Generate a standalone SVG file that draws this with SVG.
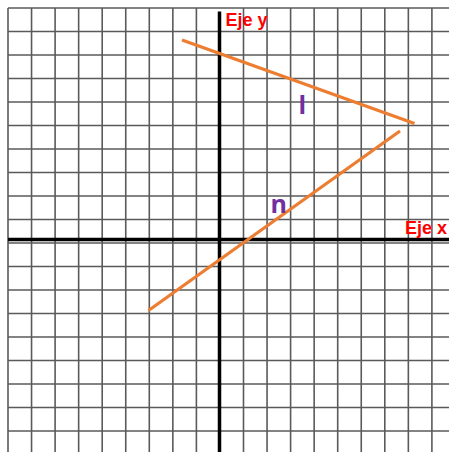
<svg xmlns="http://www.w3.org/2000/svg" width="449" height="452" viewBox="0 0 449 452">
<style>
.grid line{stroke:#5a5a5a;stroke-width:1.6}
.axis{stroke:#000;stroke-width:3.5}
.ln{stroke:#ED7D31;stroke-width:3.2;stroke-linecap:butt}
.ax-lbl{font-family:"Liberation Sans",Arial,sans-serif;font-weight:bold;font-size:18px;fill:#FF0000}
.ln-lbl{font-family:"Open Sans","Liberation Sans",sans-serif;font-weight:bold;font-size:25px;fill:#7030A0}
</style>
<rect width="449" height="452" fill="#fff"/>
<g id="grid" class="grid">
<line x1="8" y1="8" x2="8" y2="452"/>
<line x1="31.55" y1="8" x2="31.55" y2="452"/>
<line x1="55.1" y1="8" x2="55.1" y2="452"/>
<line x1="78.65" y1="8" x2="78.65" y2="452"/>
<line x1="102.2" y1="8" x2="102.2" y2="452"/>
<line x1="125.75" y1="8" x2="125.75" y2="452"/>
<line x1="149.3" y1="8" x2="149.3" y2="452"/>
<line x1="172.85" y1="8" x2="172.85" y2="452"/>
<line x1="196.4" y1="8" x2="196.4" y2="452"/>
<line x1="243.5" y1="8" x2="243.5" y2="452"/>
<line x1="267.05" y1="8" x2="267.05" y2="452"/>
<line x1="290.6" y1="8" x2="290.6" y2="452"/>
<line x1="314.15" y1="8" x2="314.15" y2="452"/>
<line x1="337.7" y1="8" x2="337.7" y2="452"/>
<line x1="361.25" y1="8" x2="361.25" y2="452"/>
<line x1="384.8" y1="8" x2="384.8" y2="452"/>
<line x1="408.35" y1="8" x2="408.35" y2="452"/>
<line x1="431.9" y1="8" x2="431.9" y2="452"/>
<line x1="8" y1="8" x2="449" y2="8"/>
<line x1="8" y1="31.5" x2="449" y2="31.5"/>
<line x1="8" y1="55" x2="449" y2="55"/>
<line x1="8" y1="78.5" x2="449" y2="78.5"/>
<line x1="8" y1="102" x2="449" y2="102"/>
<line x1="8" y1="125.5" x2="449" y2="125.5"/>
<line x1="8" y1="149" x2="449" y2="149"/>
<line x1="8" y1="172.5" x2="449" y2="172.5"/>
<line x1="8" y1="196" x2="449" y2="196"/>
<line x1="8" y1="219.5" x2="449" y2="219.5"/>
<line x1="8" y1="243" x2="449" y2="243"/>
<line x1="8" y1="266.5" x2="449" y2="266.5"/>
<line x1="8" y1="290" x2="449" y2="290"/>
<line x1="8" y1="313.5" x2="449" y2="313.5"/>
<line x1="8" y1="337" x2="449" y2="337"/>
<line x1="8" y1="360.5" x2="449" y2="360.5"/>
<line x1="8" y1="384" x2="449" y2="384"/>
<line x1="8" y1="407.5" x2="449" y2="407.5"/>
<line x1="8" y1="431" x2="449" y2="431"/>
</g>
<g id="axes">
<line class="axis" x1="219.5" y1="11.5" x2="219.5" y2="452"/>
<line class="axis" x1="8" y1="239.5" x2="449" y2="239.5"/>
<text id="label-y" class="ax-lbl" x="225.5" y="25.5">Eje y</text>
<text id="label-x" class="ax-lbl" x="447" y="234" text-anchor="end">Eje x</text>
</g>
<g id="connectors">
<line id="line-l" class="ln" x1="182" y1="40" x2="414.5" y2="123.5"/>
<line id="line-n" class="ln" x1="148.5" y1="310.5" x2="400" y2="131"/>
</g>
<g id="labels">
<text id="label-l" class="ln-lbl" x="298.5" y="114">l</text>
<text id="label-n" class="ln-lbl" x="270.5" y="213">n</text>
</g>
</svg>
